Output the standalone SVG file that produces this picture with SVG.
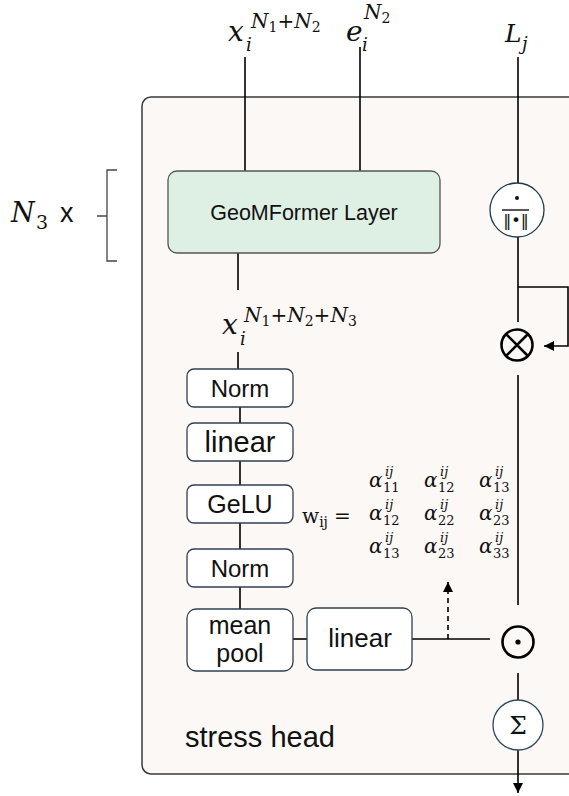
<svg xmlns="http://www.w3.org/2000/svg" width="569" height="796" viewBox="0 0 569 796">
<defs>
<marker id="ah" viewBox="0 0 10 10" refX="10" refY="5" markerWidth="10" markerHeight="10" markerUnits="userSpaceOnUse" orient="auto"><path d="M0,0 L10,5 L0,10 z" fill="#000"/></marker>
<style>
.ln{stroke:#000;stroke-width:1.6;fill:none}
.box{fill:#fff;stroke:#2f4050;stroke-width:1.3}
.bt{font-family:"Liberation Sans",Arial,sans-serif;fill:#111;text-anchor:middle}
.m{font-family:"DejaVu Serif","Liberation Serif",serif;font-style:italic;fill:#111}
.mr{font-family:"DejaVu Serif","Liberation Serif",serif;font-style:normal;fill:#111}
.op{fill:none;stroke:#000;stroke-width:2.6}
</style>
</defs>
<rect width="569" height="796" fill="#fff"/>
<g id="panel">
<rect x="142" y="97" width="450" height="677" rx="9" fill="#fcf8f5" stroke="#3a3a3a" stroke-width="1.5"/>
<text x="185" y="747" class="bt" style="text-anchor:start" font-size="29">stress head</text>
</g>
<g id="repeat">
<text class="m" x="11" y="222" font-size="27">N</text>
<text class="mr" x="36" y="229" font-size="19">3</text>
<text x="60" y="222" font-family="Liberation Sans,Arial,sans-serif" font-size="27" fill="#111">x</text>
<path d="M117,170 H107 V261 H117 M107,216 H97" fill="none" stroke="#444" stroke-width="1.3"/>
</g>
<g id="connectors">
<path class="ln" d="M245,57 V171"/>
<path class="ln" d="M360,47 V171"/>
<path class="ln" d="M518,57 V183"/>
<path class="ln" d="M238,253 V290"/>
<path class="ln" d="M238,352 V369"/>
<path class="ln" d="M240,407 V423 M240,461 V485 M240,523 V549 M240,587 V609"/>
<path class="ln" d="M293,639 H307"/>
<path class="ln" d="M412,639 H490"/>
<path class="ln" d="M448,639 V582" stroke-dasharray="5,4" marker-end="url(#ah)"/>
<path class="ln" d="M518,237 V322"/>
<path class="ln" d="M518,287 H568 V346 H544" marker-end="url(#ah)"/>
<path class="ln" d="M518,375 V605"/>
<path class="ln" d="M518,673 V700"/>
<path class="ln" d="M518,750 V793" marker-end="url(#ah)"/>
</g>
<g id="label-x">
<text class="m" x="228" y="41" font-size="28">x</text>
<text class="m" x="246" y="51" font-size="18">i</text>
<text class="m" x="251" y="28" font-size="20">N<tspan class="mr" font-size="14" dy="4">1</tspan><tspan class="mr" font-size="20" dy="-4">+</tspan>N<tspan class="mr" font-size="14" dy="4">2</tspan></text>
</g>
<g id="label-e">
<text class="m" x="346" y="41" font-size="28">e</text>
<text class="m" x="362" y="51" font-size="18">i</text>
<text class="m" x="364" y="19" font-size="20">N<tspan class="mr" font-size="14" dy="4">2</tspan></text>
</g>
<g id="label-L">
<text class="m" x="505" y="42" font-size="25">L</text>
<text class="m" x="522" y="50" font-size="18">j</text>
</g>
<g id="geomformer">
<rect x="168" y="171" width="272" height="82" rx="9" fill="#deefe3" stroke="#555" stroke-width="1.3"/>
<text class="bt" x="304" y="220" font-size="21.5">GeoMFormer Layer</text>
</g>
<g id="label-x3">
<text class="m" x="222" y="334" font-size="28">x</text>
<text class="m" x="240" y="345" font-size="18">i</text>
<text class="m" x="244" y="322" font-size="20">N<tspan class="mr" font-size="14" dy="4">1</tspan><tspan class="mr" font-size="20" dy="-4">+</tspan>N<tspan class="mr" font-size="14" dy="4">2</tspan><tspan class="mr" font-size="20" dy="-4">+</tspan>N<tspan class="mr" font-size="14" dy="4">3</tspan></text>
</g>
<g id="norm1">
<rect class="box" x="187" y="369" width="106" height="38" rx="7"/>
<text class="bt" x="240" y="397" font-size="24">Norm</text>
</g>
<g id="linear1">
<rect class="box" x="187" y="423" width="106" height="38" rx="7"/>
<text class="bt" x="240" y="452" font-size="29">linear</text>
</g>
<g id="gelu">
<rect class="box" x="187" y="485" width="106" height="38" rx="7"/>
<text class="bt" x="240" y="513" font-size="25">GeLU</text>
</g>
<g id="norm2">
<rect class="box" x="187" y="549" width="106" height="38" rx="7"/>
<text class="bt" x="240" y="577" font-size="24">Norm</text>
</g>
<g id="meanpool">
<rect class="box" x="187" y="609" width="106" height="62" rx="9"/>
<text class="bt" x="240" y="634" font-size="25">mean</text>
<text class="bt" x="240" y="662" font-size="25">pool</text>
</g>
<g id="linear2">
<rect class="box" x="307" y="608" width="105" height="62" rx="9"/>
<text class="bt" x="360" y="647" font-size="26">linear</text>
</g>
<g id="matrix">
<text class="mr" x="302" y="523" font-size="20">w<tspan font-size="14" dy="4">ij</tspan></text>
<text class="mr" x="334" y="523" font-size="20">=</text>
<g class="m" font-size="20">
<text x="369" y="487">α</text><text x="424" y="487">α</text><text x="479" y="487">α</text>
<text x="369" y="520">α</text><text x="424" y="520">α</text><text x="479" y="520">α</text>
<text x="369" y="553">α</text><text x="424" y="553">α</text><text x="479" y="553">α</text>
</g>
<g class="m" font-size="13">
<text x="385" y="476">ij</text><text x="440" y="476">ij</text><text x="495" y="476">ij</text>
<text x="385" y="509">ij</text><text x="440" y="509">ij</text><text x="495" y="509">ij</text>
<text x="385" y="542">ij</text><text x="440" y="542">ij</text><text x="495" y="542">ij</text>
</g>
<g class="mr" font-size="13">
<text x="383" y="492">11</text><text x="438" y="492">12</text><text x="493" y="492">13</text>
<text x="383" y="525">12</text><text x="438" y="525">22</text><text x="493" y="525">23</text>
<text x="383" y="558">13</text><text x="438" y="558">23</text><text x="493" y="558">33</text>
</g>
</g>
<g id="normalize">
<circle cx="517" cy="210" r="27" fill="#fff" stroke="#1f3a4d" stroke-width="1.3"/>
<circle cx="517" cy="198" r="2" fill="#111"/>
<path d="M502,210 H529" stroke="#111" stroke-width="1.4"/>
<text x="516" y="226" font-family="DejaVu Sans,sans-serif" font-size="16" text-anchor="middle" fill="#111">‖•‖</text>
</g>
<g id="otimes">
<circle class="op" cx="517" cy="345" r="15.5"/>
<path class="op" d="M506,334 L528,356 M528,334 L506,356"/>
</g>
<g id="odot">
<circle class="op" cx="518" cy="642" r="15.5"/>
<circle cx="518" cy="642" r="2.6" fill="#000"/>
</g>
<g id="sum">
<circle cx="518" cy="725" r="25" fill="#fff" stroke="#2c4a5a" stroke-width="1.3"/>
<text x="518" y="734" font-family="DejaVu Serif,serif" font-size="25" text-anchor="middle" fill="#111">Σ</text>
</g>
</svg>
